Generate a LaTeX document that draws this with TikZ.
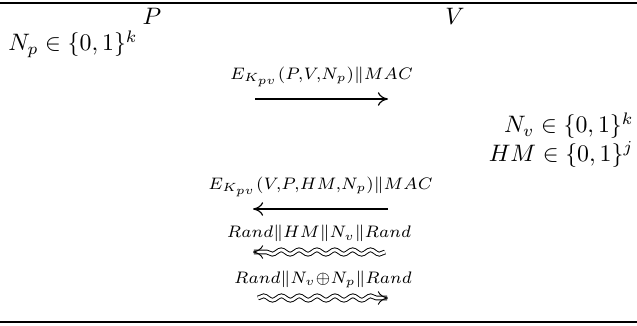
\documentclass[tikz,border=0pt]{standalone}
\usepackage{amsmath,amssymb}
\usepackage{tikz}
\usetikzlibrary{arrows.meta,decorations.pathmorphing}

\begin{document}
\begin{tikzpicture}[
          x=0.42pt,y={(0pt,-0.42pt)},
          every node/.style={inner sep=0pt},
          party/.style={font=\normalsize},
          msg/.style={execute at begin node=$\scriptstyle,
                      execute at end node=$},
          rule/.style={line width=0.8pt},
          arr/.style={-{To[length=1.5mm,width=2mm]},line width=0.5pt},
          warr/.style={-{To[length=1.5mm,width=2mm]},line width=0.4pt,
                       double,double distance=1.2pt,decorate,
                       decoration={snake,amplitude=0.9pt,segment length=7.5pt,
                                   post length=1.5mm}}
      ]
        \useasboundingbox (0,0) rectangle (637,325);
        \draw[rule] (0,3) coordinate (tl) -- (637,3) coordinate (tr);
        \draw[rule] (0,322) coordinate (bl) -- (637,322) coordinate (br);

        \node[party] (P) at (152,16) {$P$};
        \node[party] (V) at (455,16) {$V$};
        \node[party,anchor=west] (np) at (8,44) {$N_p \in \{0,1\}^k$};
        \node[party,anchor=east,align=right] (nv) at (634,140)
          {$N_v \in \{0,1\}^k$\\$HM \in \{0,1\}^j$};

        \coordinate (m1a) at (255,99);
        \coordinate (m1b) at (388,99);
        \coordinate (m2a) at (388,209);
        \coordinate (m2b) at (253,209);
        \coordinate (m3a) at (385,252);
        \coordinate (m3b) at (253,252);
        \coordinate (m4a) at (258,298);
        \coordinate (m4b) at (388,298);

        \draw[arr] (m1a) -- node[msg,above=5pt] (l1) {E_{K_{pv}}(P,V,N_p)\|MAC} (m1b);
        \draw[arr] (m2a) -- node[msg,above=5pt] (l2) {E_{K_{pv}}(V,P,HM,N_p)\|MAC} (m2b);
        \draw[warr] (m3a) -- (m3b);
        \path (m3a) -- node[msg,above=4pt] (l3) {Rand\|HM\|N_v\|Rand} (m3b);
        \draw[warr] (m4a) -- (m4b);
        \path (m4a) -- node[msg,above=4pt] (l4) {Rand\|N_v\oplus N_p\|Rand} (m4b);
      \end{tikzpicture}
\end{document}
